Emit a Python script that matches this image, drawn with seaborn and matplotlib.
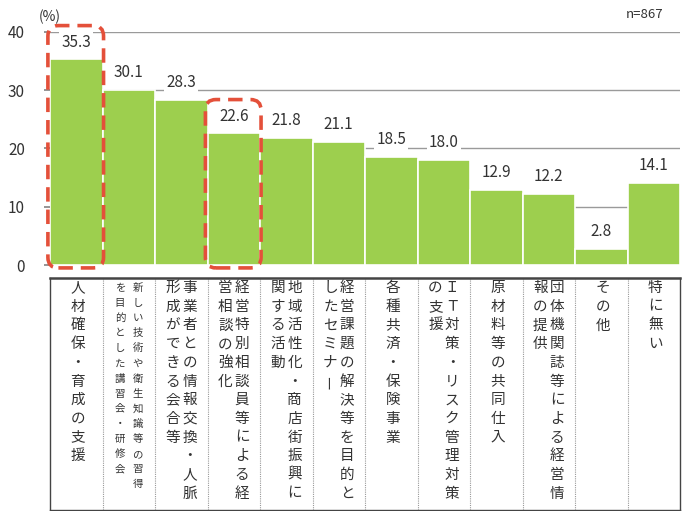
import numpy as np
import pandas as pd
import matplotlib
matplotlib.use("Agg")
import matplotlib.pyplot as plt
import seaborn as sns
from matplotlib.patches import FancyBboxPatch

# ---- data ----
categories = [
    "人材確保・育成の支援",
    "新しい技術や衛生知識等の習得を目的とした講習会・研修会",
    "事業者との情報交換・人脈形成ができる会合等",
    "経営特別相談員等による経営相談の強化",
    "地域活性化・商店街振興に関する活動",
    "経営課題の解決等を目的としたセミナー",
    "各種共済・保険事業",
    "ＩＴ対策・リスク管理対策の支援",
    "原材料等の共同仕入",
    "団体機関誌等による経営情報の提供",
    "その他",
    "特に無い",
]
values = [35.3, 30.1, 28.3, 22.6, 21.8, 21.1, 18.5, 18.0, 12.9, 12.2, 2.8, 14.1]
# vertical label columns, first entry = rightmost column
label_columns = [
    ["人材確保・育成の支援"],
    ["新しい技術や衛生知識等の習得", "を目的とした講習会・研修会"],
    ["事業者との情報交換・人脈", "形成ができる会合等"],
    ["経営特別相談員等による経", "営相談の強化"],
    ["地域活性化・商店街振興に", "関する活動"],
    ["経営課題の解決等を目的と", "したセミナー"],
    ["各種共済・保険事業"],
    ["ＩＴ対策・リスク管理対策", "の支援"],
    ["原材料等の共同仕入"],
    ["団体機関誌等による経営情", "報の提供"],
    ["その他"],
    ["特に無い"],
]
small_label = [False, True] + [False] * 10
highlighted = [0, 3]
yticks = [0, 10, 20, 30, 40]
unit_text = "(%)"
n_text = "n=867"

# ---- style ----
sns.set_theme(style="white")
plt.rcParams["font.family"] = ["Noto Sans CJK JP", "DejaVu Sans"]
TXT = "#333333"
BAR = "#9DCF4E"
RED = "#E4503A"

W, H = 686, 511
fig = plt.figure(figsize=(W / 100, H / 100), dpi=100)
fig.patch.set_facecolor("white")

ax_l, ax_r, ax_top, ax_bot = 50, 680, 32, 265
ax = fig.add_axes([ax_l / W, (H - ax_bot) / H, (ax_r - ax_l) / W, (ax_bot - ax_top) / H])
df = pd.DataFrame({"cat": categories, "val": values})
sns.barplot(data=df, x="cat", y="val", color=BAR, saturation=1, width=1.0,
            edgecolor="white", linewidth=1.2, ax=ax, zorder=2)
ax.set_xlim(-0.5, len(values) - 0.5)
ax.set_ylim(0, 40)
ax.set_yticks(yticks)
ax.set_yticklabels([str(t) for t in yticks], fontsize=11, color=TXT)
ax.set_xticks([])
ax.set_xlabel("")
ax.set_ylabel("")
for s in ax.spines.values():
    s.set_visible(False)
ax.yaxis.grid(True, color="#9a9a9a", lw=1)
ax.set_axisbelow(True)
ax.tick_params(axis="y", left=True, length=4, color="#888888", pad=14)

for i, v in enumerate(values):
    ax.text(i, v + 1.5, f"{v:.1f}", ha="center", va="bottom", fontsize=11, color=TXT,
            zorder=5, bbox=dict(facecolor="white", edgecolor="none", pad=1.5))

# red dashed rounded highlight boxes
px_x = (ax_r - ax_l) / len(values)
px_y = (ax_bot - ax_top) / 40
aspect = px_x / px_y
for i in highlighted:
    x0, x1 = i - 0.54, i + 0.52
    y0, y1 = -0.5, values[i] + 5.8
    box = FancyBboxPatch((x0, y0), x1 - x0, y1 - y0,
                         boxstyle="round,pad=0,rounding_size=0.2",
                         mutation_aspect=aspect, fill=False, edgecolor=RED,
                         lw=2.6, linestyle=(0, (4, 2.2)), clip_on=False, zorder=6)
    ax.add_patch(box)

fig.text(50 / W, 1 - 17 / H, unit_text, ha="center", va="center", fontsize=10, color=TXT)
fig.text(645 / W, 1 - 14 / H, n_text, ha="center", va="center", fontsize=9.5, color=TXT)

# ---- label table ----
tb_top, tb_bot = 278, 510
lax = fig.add_axes([ax_l / W, (H - tb_bot) / H, (ax_r - ax_l) / W, (tb_bot - tb_top) / H])
lax.set_xlim(-0.5, len(values) - 0.5)
lax.set_ylim(tb_bot - tb_top, 0)
lax.set_xticks([])
lax.set_yticks([])
lax.set_facecolor("white")
for name, s in lax.spines.items():
    s.set_visible(True)
    s.set_color("#444444")
    s.set_linewidth(1.0)
lax.spines["top"].set_linewidth(1.8)
for k in range(1, len(values)):
    lax.axvline(k - 0.5, color="#999999", ls=(0, (1, 1)), lw=0.8)

for i, cols in enumerate(label_columns):
    if small_label[i]:
        fs, step, off = 7.5, 15.1, 0.17
    else:
        fs, step, off = 10.5, 18.7, 0.16
    if len(cols) == 1:
        xs = [i + 0.03]
    else:
        xs = [i + off, i - off]
    for x, col in zip(xs, cols):
        for j, ch in enumerate(col):
            y = 10 + j * step
            rot = 0
            if ch == "ー":
                rot = 90
            lax.text(x, y, ch, ha="center", va="center", fontsize=fs, color=TXT,
                     rotation=rot)

fig.savefig("out.png", dpi=100, facecolor="white")
